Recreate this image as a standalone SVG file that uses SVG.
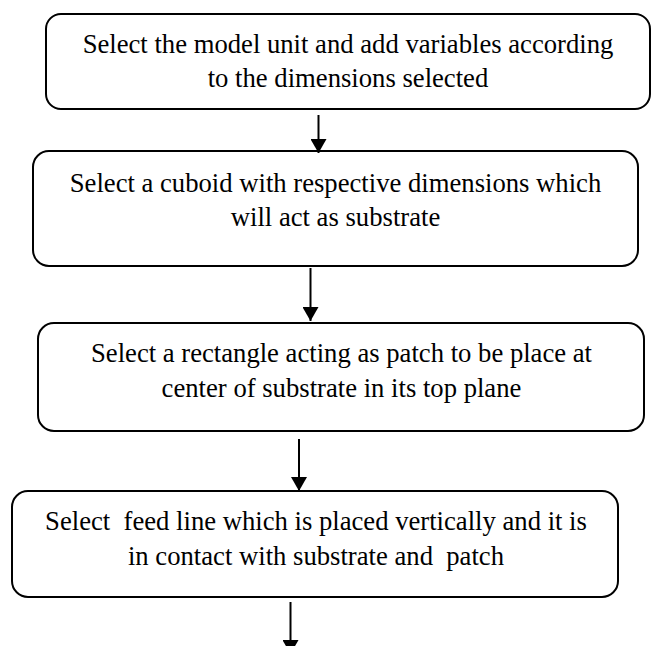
<svg xmlns="http://www.w3.org/2000/svg" width="652" height="646" viewBox="0 0 652 646">
<defs>
<style>
.box{fill:#fff;stroke:#000;stroke-width:2}
.t{font-family:"Liberation Serif","Times New Roman",serif;font-size:26.67px;fill:#000;text-anchor:middle;white-space:pre}
.c{stroke:#000;stroke-width:2;fill:none}
</style>
<marker id="ah" viewBox="0 0 14 16" refX="14" refY="8" markerWidth="14" markerHeight="16" markerUnits="userSpaceOnUse" orient="auto">
<path d="M0,0 L14,8 L0,16 z" fill="#000"/>
</marker>
</defs>
<rect width="652" height="646" fill="#fff"/>
<g id="node1">
<rect class="box" x="46" y="14" width="604" height="95" rx="15" ry="15"/>
<text class="t" x="348" y="53">Select the model unit and add variables according</text>
<text class="t" x="348" y="87">to the dimensions selected</text>
</g>
<g id="node2">
<rect class="box" x="33" y="151" width="605" height="115" rx="16" ry="16"/>
<text class="t" x="335.5" y="192">Select a cuboid with respective dimensions which</text>
<text class="t" x="335.5" y="226">will act as substrate</text>
</g>
<g id="node3">
<rect class="box" x="38" y="323" width="606" height="108" rx="16" ry="16"/>
<text class="t" x="341.5" y="362">Select a rectangle acting as patch to be place at</text>
<text class="t" x="341.5" y="397">center of substrate in its top plane</text>
</g>
<g id="node4">
<rect class="box" x="12" y="491" width="606" height="106" rx="16" ry="16"/>
<text class="t" x="316" y="530">Select  feed line which is placed vertically and it is</text>
<text class="t" x="316" y="565">in contact with substrate and  patch</text>
</g>
<g id="connectors">
<line class="c" x1="318.5" y1="115" x2="318.5" y2="153" marker-end="url(#ah)"/>
<line class="c" x1="310.5" y1="268" x2="310.5" y2="321" marker-end="url(#ah)"/>
<line class="c" x1="299" y1="439" x2="299" y2="491" marker-end="url(#ah)"/>
<line class="c" x1="290.5" y1="602" x2="290.5" y2="654" marker-end="url(#ah)"/>
</g>
</svg>
